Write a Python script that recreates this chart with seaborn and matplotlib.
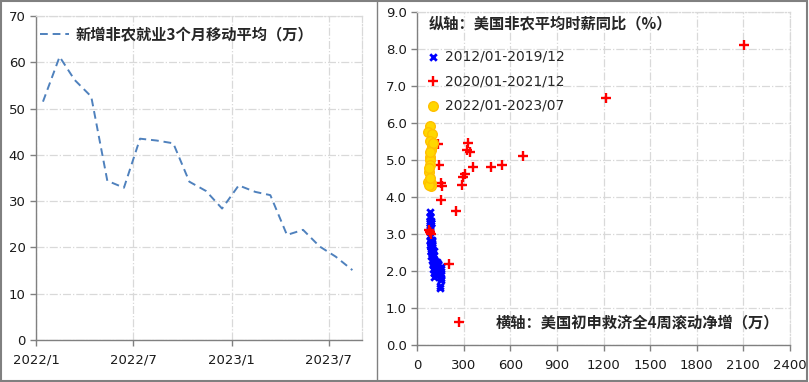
import pandas as pd
import matplotlib.pyplot as plt
import seaborn as sns
from matplotlib.patches import Rectangle
from matplotlib.lines import Line2D

# ---- datos: panel izquierdo (nuevas nóminas no agrícolas, media móvil 3 meses, 万) ----
meses = pd.date_range("2022-01-01", periods=20, freq="MS") + pd.Timedelta(days=13)
nfp_3m = [51.5, 61.2, 56.2, 52.6, 34.4, 32.9, 43.5, 43.1, 42.5, 34.2,
          32.2, 28.4, 33.4, 32.0, 31.3, 22.7, 23.8, 20.2, 18.0, 15.1]
ticks_izq = ["2022/1", "2022/7", "2023/1", "2023/7"]
fechas_ticks = pd.to_datetime(["2022-01-01", "2022-07-01", "2023-01-01", "2023-07-01"])

# ---- datos: panel derecho (solicitudes iniciales 4 semanas vs salario por hora) ----
x_1219 = [155, 150, 148, 146, 152, 156, 154, 150, 148, 145, 148, 152,
          140, 138, 136, 142, 138, 135, 132, 130, 128, 135, 130, 128,
          132, 128, 125, 120, 122, 118, 120, 122, 118, 115, 112, 110,
          112, 110, 108, 112, 106, 105, 104, 102, 100, 105, 108, 106,
          104, 100, 98, 100, 96, 98, 96, 94, 96, 94, 96, 98,
          96, 94, 92, 90, 94, 90, 92, 90, 88, 92, 90, 88,
          90, 88, 90, 86, 88, 86, 88, 84, 86, 84, 86, 84,
          86, 84, 82, 84, 86, 90, 88, 84, 86, 90, 88, 86]
y_1219 = [1.75, 1.85, 2.05, 1.95, 1.80, 2.05, 1.90, 1.85, 1.95, 1.60, 1.53, 2.10,
          2.05, 2.20, 1.90, 1.95, 2.05, 2.15, 2.00, 2.25, 2.10, 2.20, 2.10, 1.90,
          1.95, 2.15, 2.25, 1.95, 2.15, 2.00, 2.05, 2.20, 2.00, 2.05, 2.25, 1.85,
          2.15, 1.95, 2.15, 2.30, 2.30, 2.05, 2.15, 2.20, 2.35, 2.55, 2.30, 2.55,
          2.45, 2.25, 2.30, 2.45, 2.45, 2.65, 2.70, 2.45, 2.60, 2.80, 2.50, 2.85,
          2.55, 2.75, 2.65, 2.55, 2.60, 2.55, 2.70, 2.60, 2.85, 2.40, 2.55, 2.75,
          2.80, 2.65, 2.75, 2.70, 2.75, 2.80, 2.75, 2.95, 2.85, 3.20, 3.10, 3.30,
          3.25, 3.45, 3.30, 3.35, 3.45, 3.30, 3.30, 3.50, 3.60, 3.30, 3.35, 3.05]
x_2021 = [86, 80, 88, 268, 204, 2106, 1217, 681, 549, 474, 360, 328,
          321, 339, 306, 296, 291, 135, 141, 152, 161, 156, 249, 86]
y_2021 = [3.05, 3.10, 3.00, 0.63, 2.19, 8.10, 6.69, 5.12, 4.88, 4.80, 4.80, 5.46,
          5.26, 5.23, 4.62, 4.55, 4.32, 5.43, 4.88, 4.39, 4.30, 3.92, 3.63, 3.05]
x_2223 = [86, 71, 96, 81, 99, 92, 86, 81, 86, 77, 71, 81, 92, 92, 75, 103, 81, 77, 86]
y_2223 = [5.93, 5.76, 5.71, 5.53, 5.38, 5.27, 5.09, 5.00, 4.87, 4.69, 4.42, 4.35,
          4.39, 4.30, 4.33, 5.45, 5.23, 4.78, 4.51]

# ---- lienzo ----
sns.set_theme(style="white")
plt.rcParams['font.family'] = ['DejaVu Sans', 'Noto Sans CJK SC']
cjk = ['Noto Sans CJK SC', 'DejaVu Sans']
gris = '#808080'
grid_kw = dict(color='#d9d9d9', linestyle='-.', linewidth=0.9)

fig = plt.figure(figsize=(8.09, 3.82), dpi=100)
ax1 = fig.add_axes([0.0445, 0.110, 0.403, 0.848])
ax2 = fig.add_axes([0.5155, 0.097, 0.461, 0.871])


def estilo(ax):
    for s in ['left', 'bottom']:
        ax.spines[s].set_color(gris)
        ax.spines[s].set_linewidth(1.0)
    for s in ['top', 'right']:
        ax.spines[s].set_color('#d9d9d9')
        ax.spines[s].set_linestyle('-.')
        ax.spines[s].set_linewidth(0.9)
    ax.grid(True, **grid_kw)
    ax.tick_params(axis='both', direction='out', length=4, width=1, color=gris,
                   labelsize=9.5, labelcolor='#1a1a1a', left=True, bottom=True)
    ax.set_xlabel('')
    ax.set_ylabel('')


# ========================================================
# Panel izquierdo: línea discontinua
# ========================================================
df_nfp = pd.DataFrame({'fecha': meses, 'valor': nfp_3m})
sns.lineplot(data=df_nfp, x='fecha', y='valor', ax=ax1, color='#4f81bd',
             linewidth=1.4, dashes=False, label='新增非农就业3个月移动平均（万）')
ax1.lines[0].set_dashes([4, 2.5])
ax1.set_xlim(pd.Timestamp("2022-01-01"), pd.Timestamp("2023-09-01"))
ax1.set_ylim(0, 70)
ax1.set_yticks(range(0, 71, 10))
ax1.set_xticks(fechas_ticks)
ax1.set_xticklabels(ticks_izq)
estilo(ax1)
ax1.tick_params(axis='x', pad=6)
leg1 = ax1.legend(loc='upper left', frameon=False, handlelength=1.9,
                  handletextpad=0.4, borderaxespad=0.2,
                  bbox_to_anchor=(-0.015, 0.995),
                  prop=dict(family=cjk, size=11, weight='bold'))

# ========================================================
# Panel derecho: dispersión
# ========================================================
sns.scatterplot(x=x_1219, y=y_1219, ax=ax2, marker='x', color='#0000ff',
                s=22, linewidth=2.0, label='2012/01-2019/12', zorder=3)
sns.scatterplot(x=x_2021, y=y_2021, ax=ax2, marker='+', color='#ff0000',
                s=48, linewidth=1.7, label='2020/01-2021/12', zorder=4)
sns.scatterplot(x=x_2223, y=y_2223, ax=ax2, marker='o', color='#ffd700',
                edgecolor='#ffc000', s=48, linewidth=1.0,
                label='2022/01-2023/07', zorder=5)
ax2.set_xlim(0, 2400)
ax2.set_ylim(0, 9)
ax2.set_xticks(range(0, 2401, 300))
ax2.set_yticks([i * 1.0 for i in range(10)])
ax2.yaxis.set_major_formatter(plt.FormatStrFormatter('%.1f'))
estilo(ax2)
ax2.tick_params(axis='x', pad=6)
ax2.legend(loc='upper left', frameon=False, bbox_to_anchor=(-0.01, 0.925),
           handlelength=1.0, handletextpad=0.35, labelspacing=0.75,
           markerscale=1.0, prop=dict(size=10))
ax2.text(0.03, 0.99, '纵轴：美国非农平均时薪同比（%）', transform=ax2.transAxes,
         ha='left', va='top', fontsize=11, fontweight='bold', family=cjk)
ax2.text(0.97, 0.04, '横轴：美国初申救济全4周滚动净增（万）', transform=ax2.transAxes,
         ha='right', va='bottom', fontsize=11, fontweight='bold', family=cjk)

# marcos grises de los paneles
fig.patches.append(Rectangle((0.001, 0.002), 0.997, 0.996, transform=fig.transFigure,
                             fill=False, edgecolor=gris, linewidth=1.5))
fig.lines.append(Line2D([376.5 / 809, 376.5 / 809], [0, 1], transform=fig.transFigure,
                        color=gris, linewidth=1.0))

fig.savefig('out.png', dpi=100)
